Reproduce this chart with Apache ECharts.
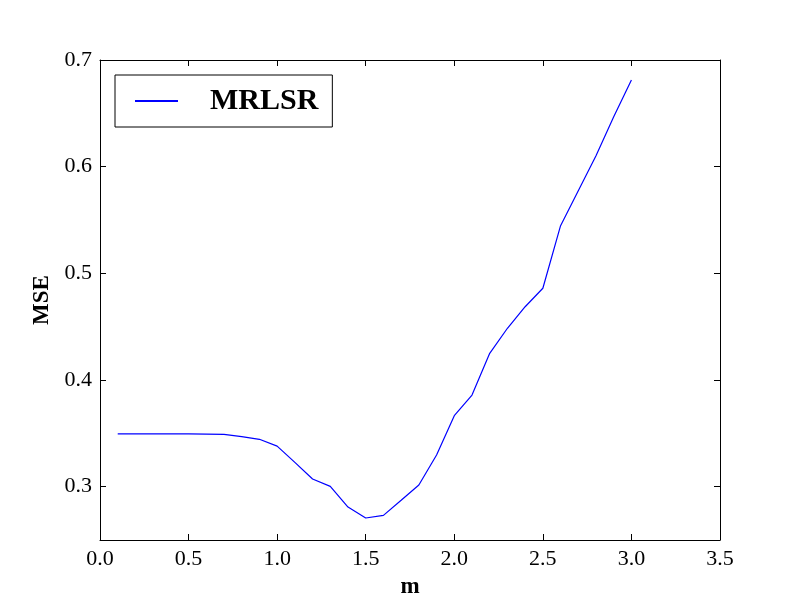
<!DOCTYPE html>
<html>
<head>
<meta charset="utf-8">
<script src="https://cdn.jsdelivr.net/npm/echarts@6/dist/echarts.min.js"></script>
<style>
  html, body { margin: 0; padding: 0; background: #fff; }
  #chart { width: 800px; height: 600px; }
</style>
</head>
<body>
<div id="chart"></div>
<script>
// m values and the MSE
const mValues = [0.1, 0.2, 0.3, 0.4, 0.5, 0.6, 0.7, 0.8, 0.9, 1.0,
  1.1, 1.2, 1.3, 1.4, 1.5, 1.6, 1.7, 1.8, 1.9, 2.0,
  2.1, 2.2, 2.3, 2.4, 2.5, 2.6, 2.7, 2.8, 2.9, 3.0]
const mse = [0.3494, 0.3494, 0.3494, 0.3494, 0.3494, 0.3493, 0.3491, 0.3469, 0.3444, 0.338,
  0.3228, 0.3072, 0.3003, 0.2809, 0.2706, 0.2731, 0.2872, 0.3016, 0.3297, 0.3665,
  0.3859, 0.425, 0.4485, 0.4687, 0.486, 0.5447, 0.5775, 0.6103, 0.6468, 0.6812]
const yTicks = [0.3, 0.4, 0.5, 0.6, 0.7]
const seriesName = 'MRLSR'

const font = 'Liberation Serif'
const chart = echarts.init(document.getElementById('chart'))

const tick = { show: true, inside: true, length: 6, lineStyle: { color: '#000', width: 1 } }
const frame = { show: true, onZero: false, lineStyle: { color: '#000', width: 1 } }

chart.setOption({
  animation: false,
  grid: { left: 100, right: 80, top: 60, bottom: 60, outerBoundsMode: 'none' },
  legend: {
    data: [seriesName],
    left: 115, top: 75,
    orient: 'vertical',
    padding: [11, 14, 11, 20],
    itemWidth: 43, itemHeight: 2, itemGap: 0,
    icon: 'rect',
    borderColor: '#000', borderWidth: 1, borderRadius: 0,
    textStyle: { fontFamily: font, fontSize: 30, fontWeight: 'bold', color: '#000', padding: [0, 0, 0, 27] }
  },
  xAxis: [{
    type: 'value', min: 0, max: 3.5, interval: 0.5,
    name: 'm', nameLocation: 'middle', nameGap: 36,
    nameTextStyle: { fontFamily: font, fontSize: 23, fontWeight: 'bold', color: '#000' },
    axisLine: frame, axisTick: tick, splitLine: { show: false },
    axisLabel: { fontFamily: font, fontSize: 22, color: '#000', margin: 8, formatter: v => v.toFixed(1) }
  }, {
    type: 'value', min: 0, max: 3.5, interval: 0.5, position: 'top',
    axisLine: frame, axisTick: tick, axisLabel: { show: false }, splitLine: { show: false }
  }],
  yAxis: [{
    type: 'value', min: 0.25, max: 0.7,
    name: 'MSE', nameLocation: 'middle', nameGap: 43, nameRotate: 90,
    nameTextStyle: { fontFamily: font, fontSize: 23, fontWeight: 'bold', color: '#000' },
    axisLine: frame, splitLine: { show: false },
    axisTick: Object.assign({ customValues: yTicks }, tick),
    axisLabel: { fontFamily: font, fontSize: 22, color: '#000', margin: 8,
      customValues: yTicks, formatter: v => v.toFixed(1) }
  }, {
    type: 'value', min: 0.25, max: 0.7, position: 'right',
    axisLine: frame, axisTick: Object.assign({ customValues: yTicks }, tick),
    axisLabel: { show: false }, splitLine: { show: false }
  }],
  series: [{
    name: seriesName,
    type: 'line',
    data: mValues.map((m, i) => [m, mse[i]]),
    showSymbol: false,
    lineStyle: { color: '#0000ff', width: 1.2 },
    itemStyle: { color: '#0000ff' }
  }]
})
</script>
</body>
</html>
